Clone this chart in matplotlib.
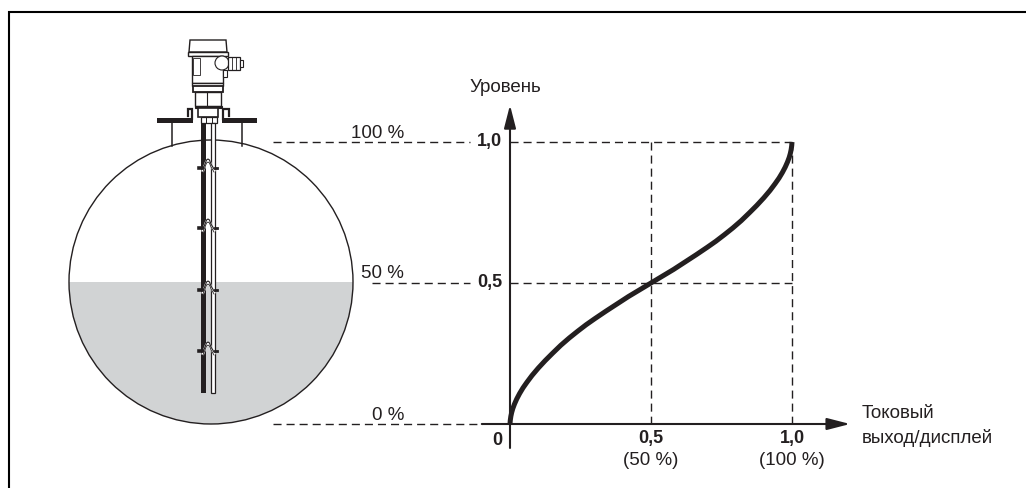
import numpy as np
import matplotlib
matplotlib.use("Agg")
import matplotlib.pyplot as plt
from matplotlib.patches import Circle, Rectangle, Polygon

plt.rcParams['font.family'] = ['Liberation Sans', 'DejaVu Sans']

W, H = 1026, 488
INK = '#231f20'
GREY = '#d1d3d4'

# curve: output vs level
output = [0.0, 0.001, 0.003, 0.006, 0.010, 0.016, 0.024, 0.034, 0.046, 0.06, 0.078, 0.10, 0.125, 0.15,
          0.18, 0.21, 0.24, 0.27, 0.30, 0.34, 0.38, 0.42, 0.46, 0.50,
          0.54, 0.58, 0.62, 0.66, 0.70, 0.73, 0.76, 0.79, 0.82, 0.85,
          0.875, 0.90, 0.922, 0.94, 0.954, 0.966, 0.976, 0.984, 0.990, 0.994, 0.997, 0.999, 1.0]
level = [0.0, 0.013, 0.027, 0.041, 0.055, 0.071, 0.089, 0.108, 0.128, 0.148, 0.172, 0.198, 0.225, 0.25,
         0.279, 0.305, 0.329, 0.352, 0.373, 0.40, 0.426, 0.452, 0.476, 0.50,
         0.524, 0.548, 0.574, 0.60, 0.627, 0.648, 0.671, 0.695, 0.721, 0.75,
         0.775, 0.802, 0.828, 0.852, 0.872, 0.892, 0.911, 0.929, 0.945, 0.959, 0.973, 0.987, 1.0]

tank_labels = ['100 %', '50 %', '0 %']
level_marks = [1.0, 0.5, 0.0]
dash_starts = [273, 372, 273]
y_ticks = ['1,0', '0,5']
x_ticks = ['0,5', '1,0']
x_sub = ['(50 %)', '(100 %)']

fig = plt.figure(figsize=(W / 100, H / 100), dpi=100)

# background axes in pixels for the frame and the tank drawing
bg = fig.add_axes([0, 0, 1, 1])
bg.set_xlim(0, W)
bg.set_ylim(H, 0)
bg.axis('off')

# frame is only open lines on the left and top
bg.plot([9, 9, W], [H, 12, 12], color='black', lw=1.5, solid_joinstyle='miter')

# tank
cx, cy, r = 211, 282, 142
clip = Circle((cx, cy), r, transform=bg.transData)
fill = Rectangle((cx - r, cy), 2 * r, r, fc=GREY, ec='none')
bg.add_patch(fill)
fill.set_clip_path(clip)
bg.add_patch(Circle((cx, cy), r, fc='none', ec=INK, lw=1.0))

# nozzle and flange
bg.plot([172, 172], [122, 146], color=INK, lw=1.1)
bg.plot([242, 242], [122, 146], color=INK, lw=1.1)
bg.add_patch(Rectangle((157, 118), 36, 5, fc=INK, ec='none'))
bg.add_patch(Rectangle((222, 118), 35, 5, fc=INK, ec='none'))
bg.plot([188, 188, 192, 192], [116, 109, 109, 119], color=INK, lw=1.6, solid_joinstyle='miter')
bg.plot([229, 229, 223, 223], [116, 109, 109, 119], color=INK, lw=1.6, solid_joinstyle='miter')

# sensor housing
bg.add_patch(Polygon([(190, 40), (226, 40), (227, 52), (189, 52)], closed=True, fc='white', ec=INK, lw=1.0))
bg.add_patch(Rectangle((188, 52), 40, 4, fc='white', ec=INK, lw=1.0))
bg.add_patch(Rectangle((192, 56), 31, 27, fc='white', ec=INK, lw=1.0))
bg.add_patch(Rectangle((193, 58), 7, 17, fc='white', ec=INK, lw=0.6))
bg.add_patch(Rectangle((223, 70), 4, 7, fc='white', ec=INK, lw=0.8))
bg.add_patch(Circle((222, 63), 7, fc='white', ec=INK, lw=0.8))
bg.add_patch(Rectangle((228, 57), 12, 13, fc='white', ec=INK, lw=0.9))
bg.plot([232, 232], [57, 70], color=INK, lw=0.6)
bg.plot([236, 236], [57, 70], color=INK, lw=0.6)
bg.add_patch(Rectangle((240, 60), 3, 7, fc='white', ec=INK, lw=0.8))
bg.add_patch(Rectangle((192, 83), 31, 3, fc='white', ec=INK, lw=1.0))
bg.add_patch(Rectangle((193, 86), 30, 6, fc='white', ec=INK, lw=1.3))
bg.add_patch(Rectangle((195, 92), 26, 14, fc='white', ec=INK, lw=1.0))
bg.plot([207, 207], [92, 106], color=INK, lw=0.8)
bg.add_patch(Rectangle((195, 106), 27, 2, fc=INK, ec=INK, lw=0.8))
bg.add_patch(Rectangle((198, 108), 20, 9, fc='white', ec=INK, lw=1.2))
bg.add_patch(Rectangle((201, 117), 16, 6, fc='white', ec=INK, lw=0.9))
bg.plot([206, 206], [117, 123], color=INK, lw=0.7)
bg.plot([212, 212], [117, 123], color=INK, lw=0.7)

# probe rods
bg.add_patch(Rectangle((201, 123), 4.5, 270, fc=INK, ec='none', zorder=3))
bg.add_patch(Rectangle((211, 123), 4, 270, fc='white', ec=INK, lw=0.9, zorder=3))
hump_x = np.array([203, 205, 206.5, 208, 209.5, 211, 214])
hump_y = np.array([10, 5, 1, 0, 1, 5, 10])
for top in [159, 219, 281, 342]:
    # white band first so the clip stands out from the rods
    bg.plot(hump_x, top + hump_y + 1.5, color='white', lw=2.0, zorder=4)
    bg.plot(hump_x, top + hump_y, color=INK, lw=0.8, zorder=5)
    bg.plot(hump_x, top + hump_y + 3, color=INK, lw=0.6, zorder=5)
    bg.plot([199, 201.5], [top + 9, top + 9], color=INK, lw=2.6, zorder=4)
    bg.plot([215, 217], [top + 9, top + 9], color=INK, lw=2.0, zorder=4)

# chart axes, spanning 0..1 on both scales
x0, x1, y0, y1 = 510, 792, 424, 142
ax = fig.add_axes([x0 / W, 1 - y0 / H, (x1 - x0) / W, (y0 - y1) / H])
ax.set_xlim(0, 1)
ax.set_ylim(0, 1)
ax.patch.set_alpha(0)
ax.axis('off')

dash = dict(color=INK, lw=1.0, ls=(0, (5.8, 3.6)), clip_on=False)
for v in [0.5, 1.0]:
    ax.plot([v, v], [1, 0], **dash)
    ax.plot([0, 1], [v, v], **dash)
ax.plot(output, level, color=INK, lw=3.6, solid_capstyle='butt', solid_joinstyle='round', clip_on=False, zorder=5)

# axis arrows
head = '-|>,head_width=0.36,head_length=1.4'
ax.annotate('', xy=(0, 1.131), xytext=(0, -0.085), annotation_clip=False,
            arrowprops=dict(arrowstyle=head, mutation_scale=10, lw=1.5, color=INK, shrinkA=0, shrinkB=0))
ax.annotate('', xy=(1.206, 0), xytext=(-0.1, 0), annotation_clip=False,
            arrowprops=dict(arrowstyle=head, mutation_scale=10, lw=1.5, color=INK, shrinkA=0, shrinkB=0))

# dashes from tank to chart and their labels
fs = 13.5
for name, v, start in zip(tank_labels, level_marks, dash_starts):
    py = y0 + (y1 - y0) * v
    end = 470 if v else 482
    bg.plot([start, end], [py, py], color=INK, lw=1.0, ls=(0, (5.8, 3.6)))
    bg.text(404, py - 4.5, name, ha='right', va='baseline', fontsize=fs, color=INK)

bold = 13
for name, v in zip(y_ticks, [1.0, 0.5]):
    ax.text(-0.028, v, name, ha='right', va='center', fontsize=bold, fontweight='bold', color=INK)
ax.text(-0.028, -0.057, '0', ha='right', va='center', fontsize=bold, fontweight='bold', color=INK)
for name, sub, v in zip(x_ticks, x_sub, [0.5, 1.0]):
    ax.text(v, -0.053, name, ha='center', va='center', fontsize=bold, fontweight='bold', color=INK)
    ax.text(v, -0.128, sub, ha='center', va='center', fontsize=fs, color=INK)

bg.text(470, 87, 'Уровень', ha='left', va='center', fontsize=fs, color=INK)
bg.text(862, 414, 'Токовый', ha='left', va='center', fontsize=fs, color=INK)
bg.text(862, 438, 'выход/дисплей', ha='left', va='center', fontsize=fs, color=INK)

fig.savefig('out.png', dpi=100)
